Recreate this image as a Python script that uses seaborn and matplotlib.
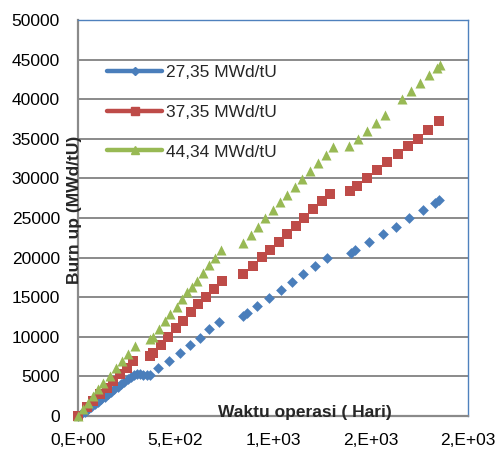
import matplotlib
matplotlib.use("Agg")
import matplotlib.pyplot as plt
import seaborn as sns
import pandas as pd
from matplotlib.lines import Line2D

sns.set_theme(style="white")
plt.rcParams['font.family'] = ['Liberation Sans', 'DejaVu Sans']

series_names = ["27,35 MWd/tU", "37,35 MWd/tU", "44,34 MWd/tU"]

days_27 = [0, 17, 34, 51, 68, 85, 102, 119, 136, 153, 170, 187, 204, 221, 238, 255,
           272, 289, 301, 318, 335, 352, 369, 412, 467, 523, 574, 626, 672, 723,
           846, 867, 918, 979, 1041, 1097, 1154, 1215, 1277,
           1400, 1423, 1492, 1562, 1631, 1697, 1769, 1833, 1851]
burnup_27 = [0, 200, 520, 840, 1150, 1470, 1790, 2100, 2420, 2740, 3050, 3370, 3680, 4000, 4300, 4620,
             4900, 5150, 5280, 5250, 5200, 5200, 5230, 6080, 6960, 7980, 8990, 9870, 11010, 11900,
             12660, 12950, 13920, 14870, 15950, 16900, 17980, 18990, 19940,
             20630, 20950, 21940, 22980, 23920, 25000, 25950, 26920, 27300]

days_37 = [0, 45, 78, 113, 147, 181, 215, 250, 284,
           369, 386, 426, 463, 503, 540, 579, 617, 656, 695, 736,
           844, 897, 942, 985, 1031, 1073, 1116, 1160, 1207, 1250, 1292,
           1395, 1429, 1480, 1532, 1586, 1639, 1691, 1745, 1796, 1851]
burnup_37 = [0, 1140, 1900, 2750, 3580, 4430, 5280, 6110, 6960,
             7600, 8010, 8990, 10000, 11050, 12020, 13080, 14140, 15060, 16040, 17000,
             17910, 18990, 20040, 21010, 21940, 23000, 24050, 25020, 26080, 27130, 28060,
             28420, 29020, 30040, 31010, 32020, 33040, 34050, 35020, 36080, 37300]

days_44 = [0, 27, 53, 78, 104, 130, 164, 195, 224, 258, 292,
           369, 387, 417, 446, 472, 506, 532, 557, 583, 609, 643, 672, 703, 732,
           844, 885, 923, 959, 998, 1036, 1074, 1113, 1151, 1190, 1231, 1272, 1309,
           1390, 1434, 1480, 1528, 1574, 1662, 1708, 1754, 1798, 1839, 1854]
burnup_44 = [0, 850, 1680, 2530, 3380, 4220, 5060, 6040, 6960, 7890, 8860,
             9710, 10000, 10980, 11940, 12870, 13800, 14770, 15610, 16240, 17090, 18010, 19050, 19960, 20950,
             21900, 22910, 23920, 24940, 26010, 27000, 27910, 28860, 29870, 30920, 31940, 33000, 33990,
             34050, 35000, 35990, 37000, 37970, 39970, 41050, 42030, 43040, 43890, 44300]

x_ticks = [0, 500, 1000, 1500, 2000]
x_tick_labels = ["0,E+00", "5,E+02", "1,E+03", "2,E+03", "2,E+03"]
y_ticks = [0, 5000, 10000, 15000, 20000, 25000, 30000, 35000, 40000, 45000, 50000]
y_tick_labels = [str(v) for v in y_ticks]

colors = ["#4A7EBB", "#BE4B48", "#98B954"]
markers = ["D", "s", "^"]
sizes = [30, 48, 52]

fig = plt.figure(figsize=(4.99, 4.51), dpi=100)
ax = fig.add_axes([78 / 499, 35 / 451, 390 / 499, 396 / 451])

data = [(days_27, burnup_27), (days_37, burnup_37), (days_44, burnup_44)]
for (dx, dy), c, m, s in zip(data, colors, markers, sizes):
    df = pd.DataFrame({"x": dx, "y": dy})
    sns.scatterplot(data=df, x="x", y="y", ax=ax, marker=m, color=c, s=s,
                    linewidth=0, legend=False, zorder=3, clip_on=False)

ax.set_xlim(0, 2000)
ax.set_ylim(0, 50000)
ax.set_xticks(x_ticks)
ax.set_xticklabels(x_tick_labels)
ax.set_yticks(y_ticks)
ax.set_yticklabels(y_tick_labels)
ax.tick_params(axis="both", length=0, labelsize=12.5, colors="black")
ax.tick_params(axis="y", pad=13)
ax.tick_params(axis="x", pad=12)

ax.yaxis.grid(True, color="#8a8a8a", linewidth=1.4)
ax.xaxis.grid(False)
ax.set_axisbelow(True)

for side in ["top", "right"]:
    ax.spines[side].set_color("#4F81BD")
    ax.spines[side].set_linewidth(1.0)
for side in ["left", "bottom"]:
    ax.spines[side].set_color("#8a8a8a")
    ax.spines[side].set_linewidth(1.6)

ax.set_xlabel("")
ax.set_ylabel("")
fig.text(305 / 499, 1 - 413 / 451, "Waktu operasi ( Hari)", fontsize=12.5,
         fontweight="bold", ha="center", va="center", zorder=5)
fig.text(74 / 499, 1 - 210 / 451, "Burn up (MWd/tU)", fontsize=12.5,
         fontweight="bold", ha="center", va="center", rotation=90, zorder=5)

handles = [Line2D([], [], color=c, lw=3.2, marker=m, markersize=ms)
           for c, m, ms in zip(colors, markers, [4.5, 6, 5.5])]
ax.legend(handles, series_names, loc="upper left", bbox_to_anchor=(0.074, 0.887),
          frameon=False, fontsize=12.5, handlelength=3.2, handletextpad=0.2,
          labelspacing=1.42, borderpad=0, borderaxespad=0)

fig.savefig("out.png", dpi=100)
